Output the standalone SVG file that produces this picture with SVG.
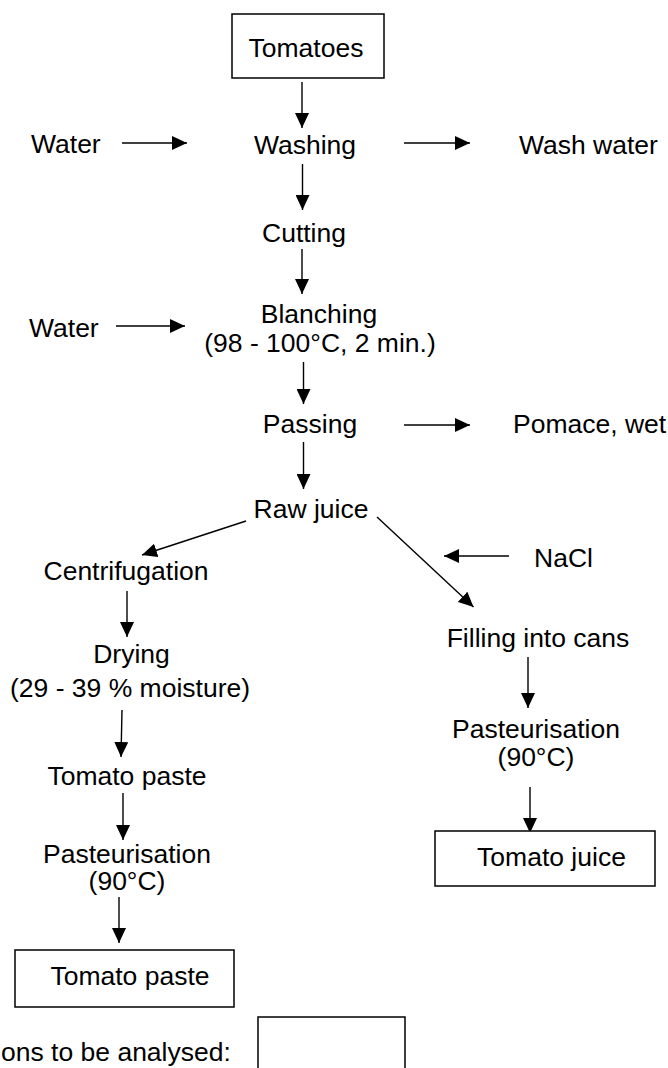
<svg xmlns="http://www.w3.org/2000/svg" width="668" height="1068" viewBox="0 0 668 1068">
  <style>
    .lbl { font-family: "Liberation Sans", Arial, sans-serif; font-size: 26.5px; fill: #000; }
    .mid { text-anchor: middle; }
    .box { fill: #fff; stroke: #000; stroke-width: 1.5; }
    .flow { stroke: #000; stroke-width: 1.4; fill: none; marker-end: url(#head); }
  </style>
  <defs>
    <marker id="head" markerUnits="userSpaceOnUse" markerWidth="15" markerHeight="14" refX="15" refY="7" orient="auto">
      <path d="M0,0 L15,7 L0,14 z" fill="#000"/>
    </marker>
  </defs>
  <rect width="668" height="1068" fill="#fff"/>

  <!-- connectors -->
  <g id="connectors">
    <line class="flow" x1="302" y1="82" x2="302" y2="128"/>
    <line class="flow" x1="122" y1="143" x2="187" y2="143"/>
    <line class="flow" x1="404" y1="143" x2="470" y2="143"/>
    <line class="flow" x1="302.5" y1="164" x2="302.5" y2="210"/>
    <line class="flow" x1="302" y1="249" x2="302" y2="294"/>
    <line class="flow" x1="116" y1="326" x2="185" y2="326"/>
    <line class="flow" x1="303.5" y1="362" x2="303.5" y2="404"/>
    <line class="flow" x1="404" y1="425" x2="470" y2="425"/>
    <line class="flow" x1="303.5" y1="442" x2="303.5" y2="489"/>
    <line class="flow" x1="246" y1="521" x2="142" y2="555"/>
    <line class="flow" x1="377" y1="517" x2="473.5" y2="607"/>
    <line class="flow" x1="509" y1="556" x2="444" y2="556"/>
    <line class="flow" x1="127" y1="591" x2="127" y2="637"/>
    <line class="flow" x1="528" y1="657" x2="528" y2="708"/>
    <line class="flow" x1="122" y1="710" x2="121" y2="757"/>
    <line class="flow" x1="123" y1="793" x2="123" y2="840"/>
    <line class="flow" x1="530" y1="787" x2="530" y2="833"/>
    <line class="flow" x1="119" y1="897" x2="119" y2="943"/>
  </g>

  <g id="tomatoes">
    <rect class="box" x="232" y="14" width="152" height="64"/>
    <text class="lbl mid" x="306" y="57">Tomatoes</text>
  </g>
  <g id="water-1"><text class="lbl" x="31" y="153">Water</text></g>
  <g id="washing"><text class="lbl mid" x="305" y="154">Washing</text></g>
  <g id="wash-water"><text class="lbl" x="519" y="154">Wash water</text></g>
  <g id="cutting"><text class="lbl mid" x="304" y="242">Cutting</text></g>
  <g id="water-2"><text class="lbl" x="29" y="337">Water</text></g>
  <g id="blanching">
    <text class="lbl mid" x="319" y="323">Blanching</text>
    <text class="lbl mid" x="320" y="352">(98 - 100°C, 2 min.)</text>
  </g>
  <g id="passing"><text class="lbl mid" x="310" y="433">Passing</text></g>
  <g id="pomace"><text class="lbl" x="513" y="433">Pomace, wet</text></g>
  <g id="raw-juice"><text class="lbl mid" x="311" y="518">Raw juice</text></g>
  <g id="nacl"><text class="lbl" x="534" y="567">NaCl</text></g>
  <g id="centrifugation"><text class="lbl mid" x="126" y="580">Centrifugation</text></g>
  <g id="filling"><text class="lbl mid" x="538" y="647">Filling into cans</text></g>
  <g id="drying">
    <text class="lbl mid" x="131.5" y="663">Drying</text>
    <text class="lbl mid" x="130" y="697">(29 - 39 % moisture)</text>
  </g>
  <g id="paste-intermediate"><text class="lbl mid" x="127" y="785">Tomato paste</text></g>
  <g id="pasteurisation-left">
    <text class="lbl mid" x="127" y="863">Pasteurisation</text>
    <text class="lbl mid" x="127" y="890">(90°C)</text>
  </g>
  <g id="pasteurisation-right">
    <text class="lbl mid" x="536" y="738">Pasteurisation</text>
    <text class="lbl mid" x="536" y="766">(90°C)</text>
  </g>
  <g id="tomato-juice">
    <rect class="box" x="435" y="831" width="220" height="55"/>
    <text class="lbl mid" x="551.5" y="866">Tomato juice</text>
  </g>
  <g id="tomato-paste">
    <rect class="box" x="15" y="950" width="219" height="57"/>
    <text class="lbl mid" x="130" y="985">Tomato paste</text>
  </g>
  <g id="legend">
    <text class="lbl" x="1" y="1061">ons to be analysed:</text>
    <path d="M258,1075 V1017 H405 V1075" fill="none" stroke="#000" stroke-width="1.5"/>
  </g>
</svg>
